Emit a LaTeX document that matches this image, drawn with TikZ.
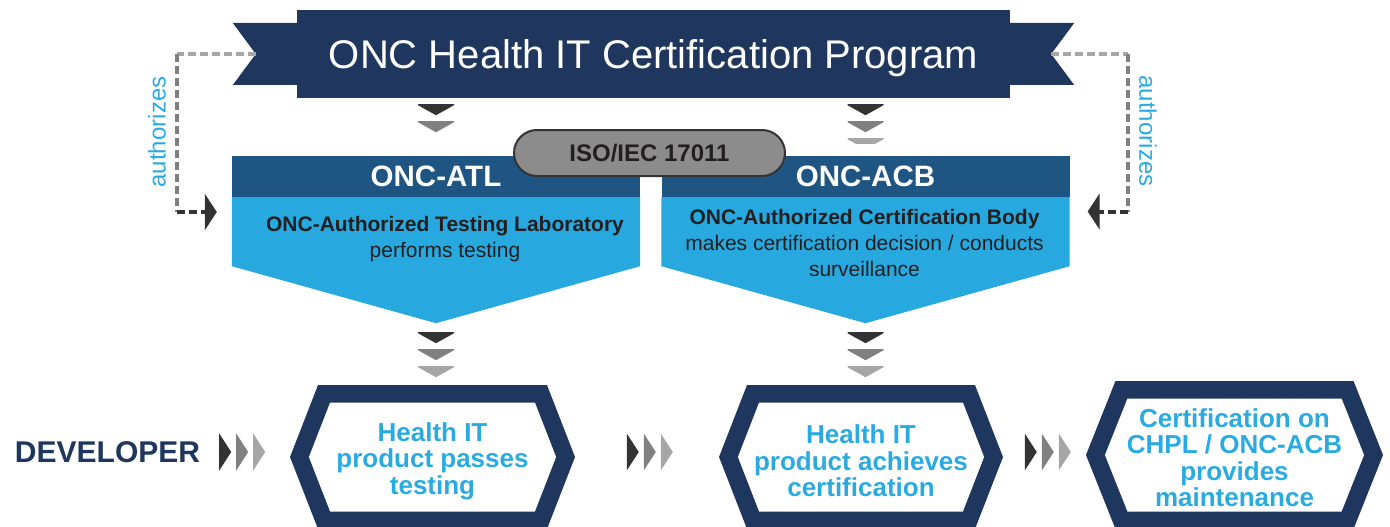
\documentclass[tikz,border=0pt]{standalone}
\usepackage{fontspec}
\setmainfont{Liberation Sans}
\usetikzlibrary{positioning,calc,arrows.meta}
\definecolor{navy}{RGB}{31,54,94}
\definecolor{hdblue}{RGB}{31,85,130}
\definecolor{cyanbody}{RGB}{39,168,223}
\definecolor{cyantext}{RGB}{41,171,226}
\definecolor{isogray}{RGB}{140,140,140}
\definecolor{ink}{RGB}{35,31,32}
\definecolor{chevA}{RGB}{51,51,51}
\definecolor{chevB}{RGB}{128,128,128}
\definecolor{chevC}{RGB}{166,166,166}

\tikzset{
  banner/.style={fill=navy, minimum width=713pt, minimum height=88pt, inner sep=0pt, text depth=0pt,
    text=white, font=\fontsize{40}{44}\selectfont},
  header/.style={fill=hdblue, minimum width=408pt, minimum height=41pt, inner sep=0pt,
    text=white, font=\fontsize{29.5}{32}\selectfont\bfseries},
  bodytext/.style={align=center, text=ink, inner sep=0pt, font=\fontsize{21}{26}\selectfont},
  isopill/.style={fill=isogray, draw=chevA, line width=2pt, rounded corners=23pt, minimum width=271pt,
    minimum height=46pt, inner sep=0pt, text=ink, font=\fontsize{24}{26}\selectfont\bfseries},
  authlabel/.style={text=cyantext, inner sep=0pt, font=\fontsize{24}{26}\selectfont},
  authline/.style={line width=4pt, dash pattern=on 8pt off 4pt},
  hexlabel/.style={align=center, text=cyantext, inner sep=0pt, font=\fontsize{26}{26.5}\selectfont\bfseries},
  hexline/.style={draw=navy, line width=17.5pt, line join=miter},
  devlabel/.style={text=navy, inner sep=0pt, font=\fontsize{30}{32}\selectfont\bfseries},
  dchev/.pic={\fill (-18,0) -- (18,0) -- (18,1) -- (0,11) -- (-18,1) -- cycle;},
  rchev/.pic={\fill (0,-18.5) -- (12,0) -- (0,18.5) -- cycle;}
}

% hexagon outline: centre, half width, half height, notch (all on the mid line)
\newcommand{\hexframe}[4]{%
  \draw[hexline, shift={(#1)}] (-#2,0) -- (-#2+#4,-#3) -- (#2-#4,-#3) -- (#2,0)
    -- (#2-#4,#3) -- (-#2+#4,#3) -- cycle;}

\begin{document}
\begin{tikzpicture}[x=1pt,y=-1pt]
\useasboundingbox (0,0) rectangle (1390,527);

% program banner with its two flag tails
\node[banner] (prog) at (653.5,54) {ONC Health IT Certification Program};
\fill[navy] (prog.west) ++(0,-31) -- ++(-64,0) -- ++(23,31) -- ++(-23,31) -- ++(64,0) -- cycle;
\fill[navy] (prog.east) ++(0,-31) -- ++(64,0) -- ++(-23,31) -- ++(23,31) -- ++(-64,0) -- cycle;
\coordinate (lnotch) at ($(prog.west)+(-41,0)$);
\coordinate (rnotch) at ($(prog.east)+(41,0)$);

% ATL and ACB boxes
\node[header] (atl) at (436,176.5) {ONC-ATL};
\node[header] (acb) at (865.5,176.5) {ONC-ACB};
\coordinate (atip) at ($(atl.south)+(0,126)$);
\coordinate (btip) at ($(acb.south)+(0,126)$);
\fill[cyanbody] (atl.south west) -- ++(0,69) -- (atip) -- ($(atl.south east)+(0,69)$) -- (atl.south east) -- cycle;
\fill[cyanbody] (acb.south west) -- ++(0,69) -- (btip) -- ($(acb.south east)+(0,69)$) -- (acb.south east) -- cycle;
\node[bodytext] (atltxt) at (445,239) {{\bfseries ONC-Authorized Testing Laboratory}\\performs testing};
\node[bodytext] (acbtxt) at (864.5,243) {{\bfseries ONC-Authorized Certification Body}\\makes certification decision / conducts\\surveillance};
\node[isopill] (iso) at (649.5,153) {ISO/IEC 17011};

% chevrons under the banner
\coordinate (atop) at (prog.south -| atl.north);
\coordinate (btop) at (prog.south -| acb.north);
\foreach \k/\c in {0/chevA,1/chevB} {
  \pic[color=\c] at ($(atop)+(0,6+17*\k)$) {dchev};
  \pic[color=\c] at ($(btop)+(0,6+17*\k)$) {dchev};
}
\begin{scope}
  \clip ($(btop)+(-30,38)$) rectangle ($(btop)+(30,45)$);
  \pic[color=chevC] at ($(btop)+(0,40)$) {dchev};
\end{scope}

% chevrons under the boxes
\foreach \k/\c in {0/chevA,1/chevB,2/chevC} {
  \pic[color=\c] at ($(atip)+(0,9+17*\k)$) {dchev};
  \pic[color=\c] at ($(btip)+(0,9+17*\k)$) {dchev};
}

% authorizes links
\coordinate (ltop) at ($(lnotch)+(-79,0)$);
\coordinate (ltip) at ($(atl.west)+(-15,35.5)$);
\coordinate (lbot) at (ltop |- ltip);
\draw[authline, chevC] (lnotch) -- (ltop);
\draw[authline, chevB] (ltop) -- (lbot);
\draw[authline, chevA, -{Triangle[length=12pt,width=36pt]}] (lbot) -- (ltip);
\node[authlabel, rotate=90] (lauth) at (157,132) {authorizes};

\coordinate (rtop) at ($(rnotch)+(77,0)$);
\coordinate (rtip) at ($(acb.east)+(18,35)$);
\coordinate (rbot) at (rtop |- rtip);
\draw[authline, chevC] (rnotch) -- (rtop);
\draw[authline, chevB] (rtop) -- (rbot);
\draw[authline, chevA, -{Triangle[length=12pt,width=36pt]}] (rbot) -- (rtip);
\node[authlabel, rotate=-90] (rauth) at (1148,131) {authorizes};

% bottom row
\node[devlabel] (dev) at (107.5,452) {DEVELOPER};
\coordinate (hexA) at (432.5,457);
\coordinate (hexB) at (861,457);
\coordinate (hexC) at (1234.5,455);
\hexframe{hexA}{133.1}{63.25}{24.6}
\hexframe{hexB}{132.6}{63.25}{24.6}
\hexframe{hexC}{139.1}{65.25}{26}
\node[hexlabel] (pass) at ($(hexA)+(0,4)$) {Health IT\\product passes\\testing};
\node[hexlabel] (achieve) at ($(hexB)+(0,4)$) {Health IT\\product achieves\\certification};
\node[hexlabel] (maint) at ($(hexC)+(0,2.5)$) {Certification on\\CHPL / ONC-ACB\\provides\\maintenance};

\coordinate (m1) at ($(dev.east)+(19,0)$);
\coordinate (m2) at ($(hexA |- dev)!0.5!(hexB |- dev)+(-20,0)$);
\coordinate (m3) at ($(hexB |- dev)!0.5!(hexC |- dev)+(-23,0)$);
\foreach \k/\c in {0/chevA,1/chevB,2/chevC} {
  \pic[color=\c] at ($(m1)+(17*\k,0)$) {rchev};
  \pic[color=\c] at ($(m2)+(17*\k,0)$) {rchev};
  \pic[color=\c] at ($(m3)+(17*\k,0)$) {rchev};
}
\end{tikzpicture}
\end{document}
